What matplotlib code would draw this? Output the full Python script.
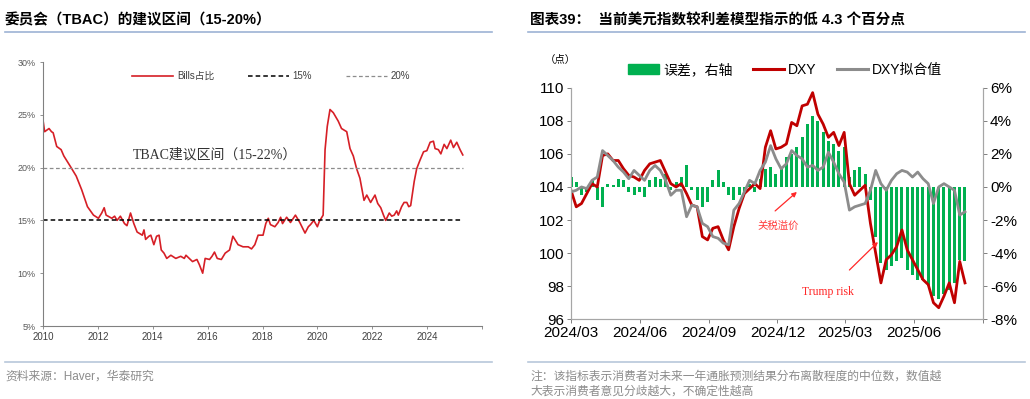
import pandas as pd
import matplotlib
matplotlib.use("Agg")
import matplotlib.pyplot as plt
from matplotlib.ticker import FuncFormatter
from matplotlib.patches import Patch
from matplotlib.lines import Line2D

plt.rcParams['font.family'] = ['Liberation Sans', 'Noto Sans CJK SC']
plt.rcParams['axes.unicode_minus'] = False

# ---------------------------
# Data: left panel (Bills share of Treasury debt, %)
# ---------------------------
bills_t = [2010.0, 2010.06, 2010.22, 2010.31, 2010.37, 2010.5, 2010.66, 2010.76,
           2011.0, 2011.21, 2011.41, 2011.62, 2011.84, 2012.02, 2012.14, 2012.23,
           2012.3, 2012.51, 2012.61, 2012.7, 2012.82, 2012.97, 2013.06, 2013.19,
           2013.31, 2013.43, 2013.62, 2013.68, 2013.74, 2013.86, 2013.93, 2014.04,
           2014.14, 2014.23, 2014.31, 2014.41, 2014.51, 2014.66, 2014.84, 2015.02,
           2015.15, 2015.21, 2015.33, 2015.45, 2015.61, 2015.7, 2015.82, 2015.91,
           2016.07, 2016.16, 2016.25, 2016.35, 2016.5, 2016.64, 2016.8, 2016.92,
           2017.11, 2017.29, 2017.48, 2017.6, 2017.72, 2017.84, 2018.02, 2018.12,
           2018.21, 2018.29, 2018.45, 2018.57, 2018.66, 2018.73, 2018.88, 2019.02,
           2019.2, 2019.36, 2019.55, 2019.67, 2019.75, 2019.87, 2020.0, 2020.07,
           2020.21, 2020.28, 2020.36, 2020.46, 2020.58, 2020.76, 2020.88, 2021.07,
           2021.19, 2021.31, 2021.43, 2021.55, 2021.7, 2021.8, 2021.94, 2022.1,
           2022.2, 2022.31, 2022.41, 2022.49, 2022.62, 2022.71, 2022.8, 2022.89,
           2022.95, 2023.07, 2023.16, 2023.26, 2023.33, 2023.4, 2023.53, 2023.62,
           2023.74, 2023.87, 2023.99, 2024.11, 2024.23, 2024.29, 2024.41, 2024.5,
           2024.62, 2024.72, 2024.86, 2024.96, 2025.08, 2025.2, 2025.3]
bills_v = [24.5, 23.4, 23.7, 23.4, 23.3, 22.0, 21.7, 21.1,
           20.1, 19.2, 17.9, 16.3, 15.5, 15.2, 15.7, 16.2,
           15.5, 15.2, 15.4, 15.0, 15.4, 14.7, 14.5, 15.7,
           14.7, 13.9, 13.6, 14.1, 13.2, 13.5, 13.6, 12.7,
           13.5, 13.6, 12.2, 11.9, 11.4, 11.7, 11.4, 11.6,
           11.4, 11.7, 11.4, 11.1, 11.3, 10.8, 10.0, 11.4,
           11.3, 11.6, 12.0, 11.4, 11.3, 11.9, 12.2, 13.5,
           12.7, 12.5, 12.5, 12.3, 12.7, 13.6, 13.6, 14.7,
           15.2, 14.6, 14.4, 14.8, 15.3, 14.7, 15.3, 14.8,
           15.5, 14.8, 13.8, 14.4, 14.6, 15.0, 14.4, 14.9,
           15.5, 21.7, 23.9, 25.5, 25.2, 24.4, 23.7, 23.4,
           21.8, 21.1, 19.9, 19.0, 16.9, 17.4, 16.7, 17.4,
           16.6, 16.2, 15.5, 15.0, 15.7, 15.4, 15.5, 15.9,
           15.5, 16.3, 16.7, 16.7, 16.3, 16.4, 18.7, 19.9,
           20.7, 21.5, 21.6, 22.4, 22.5, 21.8, 21.7, 21.3,
           22.2, 21.8, 22.6, 21.9, 22.4, 21.7, 21.2]
band_low = 15
band_high = 20
band_end = 2025.3
left_years = [2010, 2012, 2014, 2016, 2018, 2020, 2022, 2024]
left_pct = [5, 10, 15, 20, 25, 30]

# ---------------------------
# Data: right panel (DXY, model fit, error), weekly from 2024-03-01
# ---------------------------
dxy = [103.8, 102.8, 103.0, 103.6, 104.2, 104.0, 105.9, 106.0, 105.6, 105.6,
       105.1, 104.7, 104.6, 104.4, 105.0, 105.4, 105.5, 105.6, 104.9, 104.2,
       104.0, 104.2, 103.6, 102.9, 102.8, 101.0, 100.8, 101.5, 101.6, 100.8,
       100.2, 101.6, 102.7, 103.6, 103.9, 104.2, 103.9, 106.4, 107.4, 106.3,
       106.4, 106.6, 107.9, 107.7, 108.9, 109.0, 109.7, 108.4, 107.8, 107.0,
       107.3, 106.5, 107.3, 104.2, 103.5, 103.8, 104.1, 101.8, 100.0, 98.2,
       99.6, 99.9, 100.4, 101.4, 100.2, 99.6, 99.0, 98.4, 98.1, 97.0,
       96.7, 97.4, 98.2, 97.0, 99.5, 98.2]
dxy_fit = [103.7, 103.8, 104.0, 103.9, 104.4, 104.6, 106.2, 105.9, 105.6, 105.2,
           104.9, 104.5, 105.0, 104.7, 104.4, 105.0, 105.3, 105.0, 104.4, 103.5,
           103.8, 103.8, 102.2, 102.9, 102.8, 101.8, 101.6, 101.0, 100.9, 100.6,
           100.5, 102.6, 103.0, 103.7, 104.4, 104.2, 105.0, 105.5, 106.5, 105.7,
           105.1, 105.4, 106.2, 105.9, 105.7, 105.2, 105.3, 105.0, 105.2, 106.1,
           105.5, 104.8, 104.3, 102.6, 102.8, 102.9, 103.0, 103.8, 105.0, 104.2,
           103.8, 104.4, 104.8, 105.0, 104.9, 104.6, 104.9, 104.5, 104.2, 103.0,
           104.0, 104.2, 104.0, 103.8, 102.3, 102.5]
err = [0.6, 0.3, -0.5, -0.3, 0.4, -0.8, -1.2, 0.2, 0.1, 0.5,
       0.4, -0.3, -0.5, -0.3, -0.6, 0.4, 0.6, 0.5, 0.8, -0.2,
       0.3, 0.6, 1.3, -0.2, -0.8, -1.2, -0.9, 0.4, 1.0, 0.3,
       -0.5, -0.8, -0.5, -0.3, 0.2, -0.3, 0.5, 1.1, 1.2, 0.8,
       1.2, 1.8, 2.0, 2.4, 3.0, 3.8, 4.3, 4.0, 3.3, 2.8,
       2.6, 2.2, 2.4, 0.6, 1.0, 1.2, 0.8, -0.8, -3.0, -4.6,
       -5.0, -4.8, -4.5, -4.3, -5.0, -5.3, -5.6, -5.6, -6.0, -6.6,
       -6.8, -6.5, -6.2, -5.8, -4.4, -4.5]
dates = pd.date_range("2024-03-01", periods=len(dxy), freq="7D")
right_ticks = pd.to_datetime(["2024-03-01", "2024-06-01", "2024-09-01", "2024-12-01",
                              "2025-03-01", "2025-06-01", "2025-09-01"])
right_labels = ["2024/03", "2024/06", "2024/09", "2024/12", "2025/03", "2025/06", ""]

RED = "#C00000"
GREY = "#8C8C8C"
GREEN = "#00B050"
LINE_BLUE = "#9DB3D4"
NOTE_RED = "#FF2828"

fig = plt.figure(figsize=(10.3, 3.99), dpi=100)


def px(x, y):
    return x / 1030, 1 - y / 399


# ---------------------------
# Headers / footers
# ---------------------------
fig.text(*px(5, 20), "委员会（TBAC）的建议区间（15-20%）", fontsize=10.5,
         fontweight="bold", va="center", ha="left")
fig.text(*px(530, 20), "图表39：  当前美元指数较利差模型指示的低 4.3 个百分点",
         fontsize=10.5, fontweight="bold", va="center", ha="left")
for x0, x1 in [(5, 492), (528, 1025)]:
    fig.add_artist(Line2D([x0 / 1030, x1 / 1030], [1 - 32 / 399] * 2, color=LINE_BLUE, lw=1.2))
    fig.add_artist(Line2D([x0 / 1030, x1 / 1030], [1 - 362 / 399] * 2, color="#B8C7DA", lw=1.2))
fig.text(*px(5, 377), "资料来源：Haver，华泰研究", fontsize=8.5, color="#8C8C8C",
         va="center", ha="left")
fig.text(*px(530, 377), "注：该指标表示消费者对未来一年通胀预测结果分布离散程度的中位数，数值越",
         fontsize=8.5, color="#8C8C8C", va="center", ha="left")
fig.text(*px(530, 392), "大表示消费者意见分歧越大，不确定性越高",
         fontsize=8.5, color="#8C8C8C", va="center", ha="left")

# ---------------------------
# Left panel
# ---------------------------
axL = fig.add_axes([43 / 1030, 1 - 326 / 399, 439 / 1030, 264 / 399])
axL.plot(bills_t, bills_v, color="#D61F26", lw=1.2, label="Bills占比")
axL.hlines(band_low, 2010, band_end, colors="black", linestyles=(0, (3, 2)), lw=1.1, label="15%")
axL.hlines(band_high, 2010, band_end, colors="#8C8C8C", linestyles=(0, (3, 2)), lw=0.9, label="20%")
axL.set_xlim(2010, 2026)
axL.set_ylim(5, 30)
axL.set_xticks(left_years + [2026])
axL.set_xticklabels([str(y) for y in left_years] + [""])
axL.set_yticks(left_pct)
axL.set_yticklabels([f"{p}%" for p in left_pct])
axL.tick_params(axis="y", labelsize=6.5, labelcolor="#595959", length=2.5, width=0.6, color="#808080", pad=3)
axL.tick_params(axis="x", labelsize=7, labelcolor="#404040", length=2.5, width=0.6, color="#808080", pad=1.5)
for s in ["top", "right"]:
    axL.spines[s].set_visible(False)
for s in ["left", "bottom"]:
    axL.spines[s].set_color("#808080")
    axL.spines[s].set_linewidth(0.8)
axL.text(2013.28, 21.2, "TBAC建议区间（15-22%）", fontsize=10, color="#333333",
         family=["Liberation Serif", "Noto Sans CJK SC"], va="center", ha="left")
axL.legend(loc="center", bbox_to_anchor=(0.52, 0.947), ncol=3, frameon=False,
           fontsize=7, handlelength=4.2, columnspacing=3.5, handletextpad=0.4,
           labelcolor="#404040")

# ---------------------------
# Right panel
# ---------------------------
axR = fig.add_axes([571 / 1030, 1 - 319.3 / 399, 412 / 1030, 231.6 / 399])
axE = axR.twinx()
axE.bar(dates, err, width=4.0, color=GREEN, label="误差，右轴")
axR.set_zorder(axE.get_zorder() + 1)
axR.patch.set_visible(False)
axR.plot(dates, dxy, color=RED, lw=2.0, label="DXY")
axR.plot(dates, dxy_fit, color=GREY, lw=2.0, label="DXY拟合值")

axR.set_xlim(pd.Timestamp("2024-03-01"), pd.Timestamp("2025-09-01"))
axR.set_ylim(96, 110)
axR.set_yticks(range(96, 111, 2))
axE.set_ylim(-8, 6)
axE.set_yticks(range(-8, 7, 2))
axE.yaxis.set_major_formatter(FuncFormatter(lambda v, p: f"{v:.0f}%"))
axR.set_xticks(right_ticks)
axR.set_xticklabels(right_labels)
axR.tick_params(axis="both", labelsize=11, length=3, width=0.7, color="#808080", pad=2)
axE.tick_params(axis="y", labelsize=11, length=3, width=0.7, color="#808080", pad=2)
for ax in (axR, axE):
    ax.spines["top"].set_visible(False)
    for s in ["left", "right", "bottom"]:
        ax.spines[s].set_color("#A6A6A6")
        ax.spines[s].set_linewidth(0.8)

fig.text(*px(545, 60), "（点）", fontsize=7.5, va="center", ha="left")

# annotations: arrows and their labels
arrow_kw = dict(arrowstyle="-|>", color=NOTE_RED, lw=0.9, shrinkA=0, shrinkB=0, mutation_scale=7)
axR.annotate("", xy=(pd.Timestamp("2024-12-27"), 103.7),
             xytext=(pd.Timestamp("2024-11-28"), 102.55), arrowprops=arrow_kw)
axR.text(pd.Timestamp("2024-11-04"), 101.64, "关税溢价", fontsize=7.5, color="#FF3B3B",
         va="center", ha="left")
axR.annotate("", xy=(pd.Timestamp("2025-04-14"), 100.67),
             xytext=(pd.Timestamp("2025-03-07"), 98.98), arrowprops=arrow_kw)
axR.text(pd.Timestamp("2025-02-06"), 97.65, "Trump risk", fontsize=8.5, color=NOTE_RED,
         family="Liberation Serif", va="center", ha="center")

handles = [Patch(color=GREEN), Line2D([], [], color=RED, lw=2.2), Line2D([], [], color=GREY, lw=2.2)]
axR.legend(handles, ["误差，右轴", "DXY", "DXY拟合值"], loc="center",
           bbox_to_anchor=(0.52, 1.076), ncol=3, frameon=False, fontsize=10,
           handlelength=2.2, handleheight=0.7, columnspacing=1.5, handletextpad=0.3)

fig.savefig("out.png", dpi=100)
